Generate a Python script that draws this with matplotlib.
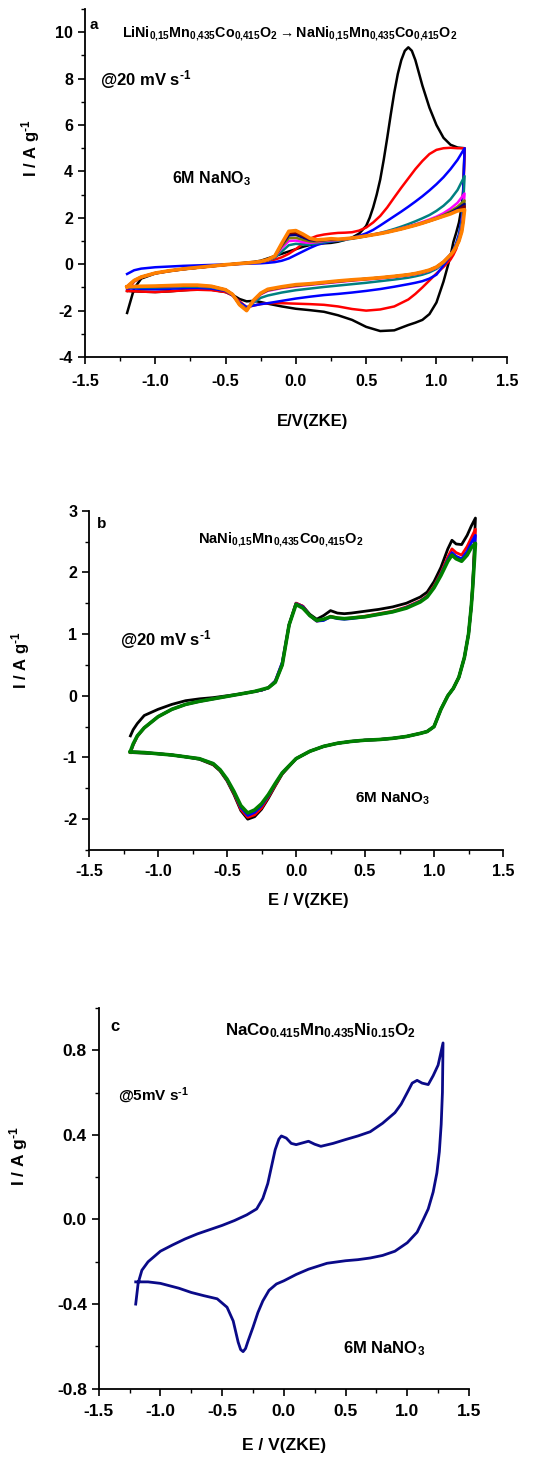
import matplotlib.pyplot as plt
from matplotlib.ticker import MultipleLocator

plt.rcParams['font.family'] = ['Liberation Sans', 'DejaVu Sans']
plt.rcParams['font.weight'] = 'bold'
plt.rcParams['axes.unicode_minus'] = False
plt.rcParams['mathtext.fontset'] = 'custom'
plt.rcParams['mathtext.rm'] = 'Liberation Sans:bold'
plt.rcParams['mathtext.bf'] = 'Liberation Sans:bold'
plt.rcParams['mathtext.it'] = 'Liberation Sans:bold'
plt.rcParams['mathtext.default'] = 'bf'

# ---------------- panel a : 9 cycles, LiNMC -> NaNMC exchange ----------------
E_A_UP = [-1.2, -1.15, -1.1, -1.0, -0.9, -0.8, -0.7, -0.6, -0.5, -0.4, -0.3,
          -0.25, -0.2, -0.15, -0.1, -0.05, 0.0, 0.05, 0.1, 0.15, 0.2, 0.25, 0.3,
          0.35, 0.4, 0.45, 0.5, 0.55, 0.6, 0.65, 0.7, 0.75, 0.8, 0.85, 0.9, 0.95,
          1.0, 1.05, 1.1, 1.15, 1.2]
E_A_DOWN = [1.2, 1.19, 1.18, 1.16, 1.14, 1.12, 1.1, 1.05, 1.0, 0.95, 0.9, 0.85,
            0.8, 0.7, 0.6, 0.5, 0.4, 0.3, 0.2, 0.1, 0.0, -0.1, -0.2, -0.25, -0.3,
            -0.35, -0.4, -0.45, -0.5, -0.6, -0.7, -0.8, -0.9, -1.0, -1.1, -1.2]
# first cycle has the big oxidation peak, read on a finer grid
E_A_UP_FIRST = [-1.2, -1.15, -1.1, -1.0, -0.9, -0.8, -0.7, -0.6, -0.5, -0.4, -0.3,
                -0.25, -0.2, -0.15, -0.1, -0.05, 0.0, 0.05, 0.1, 0.15, 0.2, 0.25, 0.3,
                0.35, 0.4, 0.45, 0.5, 0.525, 0.55, 0.575, 0.6, 0.625, 0.65, 0.675, 0.7,
                0.725, 0.75, 0.775, 0.8, 0.825, 0.85, 0.875, 0.9, 0.95, 1.0, 1.05, 1.1,
                1.15, 1.2]

a_black_up = [-2.1, -1.05, -0.62, -0.4, -0.3, -0.22, -0.15, -0.08, -0.02, 0.04, 0.1,
              0.15, 0.25, 0.35, 0.45, 0.55, 0.65, 0.75, 0.83, 0.88, 0.9, 0.92, 0.97,
              1.05, 1.15, 1.32, 1.65, 2.0, 2.45, 3.0, 3.65, 4.5, 5.45, 6.45, 7.4,
              8.2, 8.8, 9.2, 9.35, 9.2, 8.8, 8.25, 7.7, 6.75, 6.0, 5.45, 5.15,
              5.03, 5.0]
a_black_down = [5.0, 3.2, 2.5, 1.8, 1.35, 0.95, 0.35, -0.75, -1.65, -2.15, -2.4, -2.52,
                -2.62, -2.85, -2.88, -2.7, -2.4, -2.2, -2.05, -1.98, -1.92, -1.82, -1.7,
                -1.63, -1.58, -1.6, -1.5, -1.32, -1.2, -1.1, -1.08, -1.12, -1.17, -1.2,
                -1.18, -1.15]

a_red_up = [-1.15, -0.75, -0.57, -0.39, -0.29, -0.21, -0.15, -0.09, -0.03, 0.02, 0.07,
            0.1, 0.14, 0.2, 0.3, 0.45, 0.65, 0.88, 1.1, 1.22, 1.28, 1.32, 1.35,
            1.36, 1.38, 1.45, 1.58, 1.8, 2.08, 2.45, 2.88, 3.3, 3.7, 4.1, 4.45, 4.75,
            4.93, 5.0, 5.02, 5.0, 5.0]
a_red_down = [5.0, 2.5, 1.7, 1.05, 0.65, 0.4, 0.2, -0.12, -0.4, -0.7, -1.0, -1.28,
              -1.52, -1.82, -1.95, -2.0, -1.93, -1.82, -1.75, -1.72, -1.7, -1.68, -1.68,
              -1.72, -1.78, -1.85, -1.6, -1.35, -1.2, -1.12, -1.1, -1.13, -1.17, -1.2,
              -1.18, -1.15]

a_blue_up = [-0.42, -0.26, -0.19, -0.13, -0.1, -0.07, -0.05, -0.03, -0.01, 0.01, 0.03,
             0.04, 0.06, 0.09, 0.15, 0.25, 0.4, 0.55, 0.7, 0.83, 0.92, 0.98, 1.03,
             1.08, 1.13, 1.22, 1.33, 1.48, 1.67, 1.87, 2.07, 2.27, 2.48, 2.7, 2.93, 3.18,
             3.45, 3.75, 4.1, 4.5, 5.0]
a_blue_down = [5.0, 3.0, 2.0, 1.3, 0.9, 0.6, 0.38, -0.05, -0.45, -0.62, -0.73, -0.8,
               -0.86, -0.97, -1.07, -1.15, -1.22, -1.28, -1.33, -1.4, -1.48, -1.58, -1.68,
               -1.72, -1.78, -1.85, -1.65, -1.35, -1.15, -1.05, -1.02, -1.03, -1.06, -1.08,
               -1.06, -1.04]

a_teal_up = [-1.0, -0.72, -0.56, -0.39, -0.29, -0.21, -0.15, -0.09, -0.03, 0.02, 0.07,
             0.1, 0.15, 0.28, 0.55, 0.82, 0.88, 0.85, 0.85, 0.9, 0.95, 0.99, 1.01,
             1.05, 1.1, 1.15, 1.21, 1.28, 1.35, 1.43, 1.52, 1.62, 1.73, 1.85, 1.98, 2.12,
             2.3, 2.52, 2.8, 3.2, 3.8]
a_teal_down = [3.8, 2.5, 1.8, 1.2, 0.85, 0.6, 0.42, 0.05, -0.2, -0.35, -0.45, -0.52,
               -0.58, -0.66, -0.73, -0.8, -0.86, -0.92, -0.98, -1.05, -1.12, -1.22, -1.35,
               -1.45, -1.65, -1.92, -1.7, -1.32, -1.12, -1.0, -0.97, -0.97, -0.99, -1.0,
               -1.0, -0.99]

a_magenta_up = [-1.0, -0.72, -0.56, -0.39, -0.29, -0.21, -0.15, -0.09, -0.03, 0.02, 0.07,
                0.1, 0.16, 0.32, 0.7, 1.0, 1.02, 0.95, 0.92, 0.95, 1.0, 1.03, 1.04,
                1.07, 1.12, 1.17, 1.22, 1.28, 1.34, 1.4, 1.47, 1.55, 1.63, 1.72, 1.82, 1.93,
                2.05, 2.2, 2.4, 2.65, 3.05]
a_magenta_down = [3.05, 2.2, 1.6, 1.1, 0.8, 0.58, 0.42, 0.08, -0.15, -0.28, -0.37, -0.43,
                  -0.48, -0.55, -0.61, -0.66, -0.71, -0.77, -0.83, -0.89, -0.95, -1.03, -1.15,
                  -1.3, -1.6, -1.94, -1.72, -1.3, -1.1, -0.97, -0.93, -0.93, -0.95, -0.96,
                  -0.96, -0.97]

a_olive_up = [-0.98, -0.71, -0.56, -0.39, -0.29, -0.21, -0.15, -0.09, -0.03, 0.02, 0.07,
              0.1, 0.17, 0.33, 0.78, 1.12, 1.14, 1.05, 0.98, 0.98, 1.02, 1.05, 1.05,
              1.08, 1.12, 1.17, 1.22, 1.27, 1.33, 1.39, 1.46, 1.53, 1.61, 1.7, 1.79, 1.89,
              2.0, 2.12, 2.28, 2.48, 2.75]
a_olive_down = [2.75, 2.0, 1.5, 1.05, 0.78, 0.56, 0.41, 0.09, -0.13, -0.26, -0.35, -0.41,
                -0.46, -0.53, -0.59, -0.64, -0.69, -0.75, -0.81, -0.87, -0.93, -1.01, -1.13,
                -1.28, -1.58, -1.96, -1.73, -1.3, -1.1, -0.96, -0.92, -0.92, -0.94, -0.95,
                -0.95, -0.97]

a_navy_up = [-0.97, -0.71, -0.55, -0.38, -0.28, -0.2, -0.14, -0.08, -0.02, 0.03, 0.08,
             0.11, 0.18, 0.34, 0.83, 1.24, 1.27, 1.15, 1.04, 1.01, 1.04, 1.07, 1.06,
             1.09, 1.12, 1.17, 1.22, 1.27, 1.32, 1.38, 1.45, 1.52, 1.6, 1.68, 1.77, 1.87,
             1.98, 2.09, 2.23, 2.4, 2.6]
a_navy_down = [2.6, 1.9, 1.45, 1.02, 0.77, 0.56, 0.41, 0.1, -0.12, -0.25, -0.34, -0.4,
               -0.45, -0.52, -0.58, -0.63, -0.68, -0.74, -0.8, -0.86, -0.91, -0.99, -1.11,
               -1.27, -1.57, -1.97, -1.74, -1.3, -1.1, -0.96, -0.92, -0.92, -0.94, -0.95,
               -0.95, -0.97]

a_wine_up = [-0.97, -0.7, -0.55, -0.38, -0.28, -0.2, -0.14, -0.08, -0.02, 0.03, 0.08,
             0.11, 0.19, 0.35, 0.87, 1.34, 1.36, 1.22, 1.08, 1.03, 1.05, 1.08, 1.07,
             1.09, 1.12, 1.17, 1.22, 1.27, 1.32, 1.38, 1.45, 1.52, 1.6, 1.68, 1.77, 1.86,
             1.96, 2.07, 2.19, 2.32, 2.5]
a_wine_down = [2.5, 1.85, 1.42, 1.0, 0.76, 0.55, 0.4, 0.1, -0.12, -0.25, -0.34, -0.4,
               -0.45, -0.52, -0.58, -0.63, -0.68, -0.73, -0.79, -0.85, -0.9, -0.98, -1.1,
               -1.26, -1.56, -1.99, -1.75, -1.3, -1.1, -0.95, -0.91, -0.91, -0.93, -0.95,
               -0.95, -0.97]

a_orange_up = [-0.97, -0.7, -0.55, -0.38, -0.28, -0.2, -0.14, -0.08, -0.02, 0.03, 0.08,
               0.12, 0.2, 0.35, 0.9, 1.42, 1.45, 1.3, 1.12, 1.05, 1.07, 1.1, 1.08,
               1.1, 1.13, 1.17, 1.22, 1.27, 1.32, 1.38, 1.45, 1.52, 1.6, 1.68, 1.77, 1.87,
               1.97, 2.07, 2.17, 2.3, 2.35]
a_orange_down = [2.35, 1.8, 1.4, 1.0, 0.75, 0.55, 0.4, 0.1, -0.12, -0.25, -0.33, -0.4,
                 -0.45, -0.52, -0.58, -0.63, -0.67, -0.72, -0.78, -0.84, -0.88, -0.97, -1.08,
                 -1.25, -1.55, -2.0, -1.75, -1.3, -1.1, -0.95, -0.9, -0.9, -0.92, -0.94,
                 -0.95, -0.97]

# ---------------- panel b : 4 cycles of NaNMC ----------------
E_B_UP = [-1.2, -1.18, -1.15, -1.1, -1.0, -0.9, -0.8, -0.7, -0.6, -0.5, -0.4, -0.3,
          -0.25, -0.2, -0.15, -0.1, -0.05, 0.0, 0.05, 0.1, 0.15, 0.2, 0.25, 0.3, 0.35,
          0.4, 0.5, 0.6, 0.7, 0.8, 0.9, 0.95, 1.0, 1.05, 1.1, 1.13, 1.16, 1.2, 1.24,
          1.27, 1.3]
E_B_DOWN = [1.3, 1.29, 1.28, 1.27, 1.25, 1.22, 1.18, 1.14, 1.1, 1.05, 1.0, 0.95, 0.9,
            0.8, 0.7, 0.6, 0.5, 0.4, 0.3, 0.2, 0.1, 0.0, -0.1, -0.15, -0.2, -0.25, -0.3,
            -0.35, -0.4, -0.45, -0.5, -0.55, -0.6, -0.7, -0.8, -0.9, -1.0, -1.1, -1.2]

b_black_up = [-0.65, -0.55, -0.45, -0.32, -0.22, -0.14, -0.08, -0.05, -0.03, 0.0, 0.03,
              0.07, 0.09, 0.13, 0.22, 0.5, 1.15, 1.5, 1.45, 1.32, 1.24, 1.3, 1.38, 1.34,
              1.33, 1.34, 1.37, 1.4, 1.44, 1.5, 1.6, 1.68, 1.85, 2.08, 2.38, 2.52, 2.46,
              2.45, 2.6, 2.75, 2.88]
b_black_down = [2.88, 2.3, 1.8, 1.45, 1.0, 0.62, 0.3, 0.12, 0.0, -0.22, -0.5, -0.58,
                -0.61, -0.66, -0.69, -0.71, -0.72, -0.74, -0.77, -0.82, -0.9, -1.02, -1.27,
                -1.46, -1.66, -1.84, -1.96, -2.0, -1.86, -1.6, -1.38, -1.22, -1.12, -1.03,
                -0.99, -0.96, -0.94, -0.93, -0.92]

b_red_up = [-0.92, -0.8, -0.66, -0.52, -0.34, -0.22, -0.14, -0.09, -0.05, -0.01, 0.03,
            0.07, 0.09, 0.13, 0.24, 0.53, 1.15, 1.5, 1.45, 1.3, 1.21, 1.23, 1.29, 1.26,
            1.25, 1.26, 1.29, 1.33, 1.37, 1.44, 1.54, 1.62, 1.78, 1.99, 2.25, 2.38, 2.32,
            2.28, 2.42, 2.56, 2.7]
b_red_down = [2.7, 2.2, 1.75, 1.45, 1.0, 0.62, 0.3, 0.12, 0.0, -0.22, -0.5, -0.58,
              -0.61, -0.66, -0.69, -0.71, -0.72, -0.74, -0.77, -0.82, -0.9, -1.02, -1.26,
              -1.45, -1.64, -1.82, -1.93, -1.97, -1.84, -1.58, -1.37, -1.21, -1.11, -1.02,
              -0.99, -0.96, -0.94, -0.92, -0.91]

b_blue_up = [-0.91, -0.79, -0.65, -0.52, -0.34, -0.22, -0.14, -0.09, -0.05, -0.01, 0.03,
             0.07, 0.09, 0.13, 0.24, 0.54, 1.15, 1.49, 1.44, 1.3, 1.21, 1.22, 1.28, 1.25,
             1.24, 1.25, 1.28, 1.32, 1.36, 1.43, 1.53, 1.61, 1.76, 1.97, 2.21, 2.32, 2.26,
             2.22, 2.34, 2.48, 2.6]
b_blue_down = [2.6, 2.15, 1.75, 1.45, 1.0, 0.62, 0.3, 0.12, 0.0, -0.22, -0.5, -0.58,
               -0.61, -0.66, -0.69, -0.71, -0.72, -0.74, -0.77, -0.82, -0.9, -1.02, -1.25,
               -1.43, -1.62, -1.78, -1.89, -1.94, -1.81, -1.56, -1.36, -1.2, -1.1, -1.02,
               -0.99, -0.96, -0.94, -0.92, -0.91]

b_green_up = [-0.9, -0.78, -0.65, -0.52, -0.34, -0.22, -0.14, -0.09, -0.05, -0.01, 0.03,
              0.07, 0.1, 0.13, 0.22, 0.5, 1.15, 1.48, 1.42, 1.3, 1.22, 1.24, 1.28, 1.26,
              1.25, 1.26, 1.28, 1.32, 1.36, 1.42, 1.52, 1.6, 1.75, 1.95, 2.18, 2.28, 2.22,
              2.18, 2.28, 2.4, 2.47]
b_green_down = [2.47, 2.1, 1.75, 1.45, 1.0, 0.62, 0.3, 0.12, 0.0, -0.22, -0.5, -0.58,
                -0.61, -0.66, -0.69, -0.71, -0.72, -0.74, -0.77, -0.82, -0.9, -1.02, -1.25,
                -1.42, -1.6, -1.75, -1.85, -1.9, -1.78, -1.55, -1.35, -1.2, -1.1, -1.02,
                -0.99, -0.96, -0.94, -0.92, -0.91]

# ---------------- panel c : single cycle at 5 mV/s ----------------
E_C = [-1.2, -1.18, -1.15, -1.1, -1.0, -0.9, -0.8, -0.7, -0.6, -0.5, -0.4, -0.3, -0.22,
       -0.17, -0.13, -0.1, -0.07, -0.04, -0.02, 0.02, 0.06, 0.1, 0.15, 0.2, 0.25, 0.3,
       0.4, 0.5, 0.6, 0.7, 0.8, 0.9, 0.95, 1.0, 1.04, 1.08, 1.12, 1.17, 1.21, 1.25, 1.29,
       1.285, 1.275, 1.26, 1.24, 1.21, 1.17, 1.13, 1.08, 1.0, 0.9, 0.8, 0.7, 0.6, 0.5,
       0.35, 0.2, 0.1, 0.0, -0.06, -0.12, -0.17, -0.21, -0.25, -0.29, -0.31, -0.33, -0.35,
       -0.37, -0.39, -0.41, -0.46, -0.54, -0.65, -0.75, -0.85, -1.0, -1.1, -1.2]
I_C = [-0.4, -0.3, -0.24, -0.2, -0.15, -0.12, -0.092, -0.068, -0.048, -0.028, -0.005,
       0.022, 0.05, 0.1, 0.17, 0.25, 0.33, 0.38, 0.395, 0.385, 0.36, 0.354, 0.362, 0.37,
       0.356, 0.346, 0.36, 0.378, 0.395, 0.415, 0.455, 0.505, 0.545, 0.6, 0.645, 0.658,
       0.645, 0.638, 0.68, 0.73, 0.835,
       0.6, 0.45, 0.32, 0.22, 0.13, 0.05, 0.0, -0.06, -0.11, -0.15, -0.17, -0.182, -0.19,
       -0.195, -0.207, -0.235, -0.26, -0.29, -0.305, -0.335, -0.385, -0.44, -0.51, -0.575,
       -0.61, -0.625, -0.615, -0.58, -0.53, -0.48, -0.415, -0.375, -0.36, -0.345, -0.325,
       -0.302, -0.295, -0.295]

XTICKS = [-1.5, -1.0, -0.5, 0.0, 0.5, 1.0, 1.5]
XTICK_LABELS = ['-1.5', '-1.0', '-0.5', '0.0', '0.5', '1.0', '1.5']
YTICKS_A = [-4, -2, 0, 2, 4, 6, 8, 10]
YTICKS_B = [-2, -1, 0, 1, 2, 3]
YTICKS_C = [-0.8, -0.4, 0.0, 0.4, 0.8]
YTICK_LABELS_C = ['-0.8', '-0.4', '0.0', '0.4', '0.8']

W, H = 534, 1459
fig = plt.figure(figsize=(W / 100, H / 100), dpi=100)


def px(x, y):
    return x / W, 1 - y / H


def style(ax, ylim, yticks, yminor, ylabels, fs, xpad, ypad):
    ax.set_xlim(-1.5, 1.5)
    ax.set_ylim(*ylim)
    ax.spines['top'].set_visible(False)
    ax.spines['right'].set_visible(False)
    ax.spines['left'].set_linewidth(1.3)
    ax.spines['bottom'].set_linewidth(1.3)
    ax.set_xticks(XTICKS, XTICK_LABELS)
    ax.set_yticks(yticks, ylabels)
    ax.xaxis.set_minor_locator(MultipleLocator(0.25))
    ax.yaxis.set_minor_locator(MultipleLocator(yminor))
    ax.tick_params(which='major', direction='out', length=5, width=1.2, labelsize=fs)
    ax.tick_params(which='minor', direction='out', length=3, width=1.0)
    ax.tick_params(axis='x', which='major', pad=xpad)
    ax.tick_params(axis='y', which='major', pad=ypad)


INV = r'$^{\text{-1}}$'

# ---- panel a
ax1 = fig.add_axes([0.159, 0.7553, 0.790, 0.2385])
cycles_a = [(E_A_UP_FIRST, a_black_up, a_black_down, '#000000', 1.8),
            (E_A_UP, a_red_up, a_red_down, '#FF0000', 1.8),
            (E_A_UP, a_blue_up, a_blue_down, '#0000FF', 1.8),
            (E_A_UP, a_teal_up, a_teal_down, '#008080', 1.8),
            (E_A_UP, a_magenta_up, a_magenta_down, '#FF00FF', 1.8),
            (E_A_UP, a_olive_up, a_olive_down, '#808000', 1.8),
            (E_A_UP, a_navy_up, a_navy_down, '#000080', 1.8),
            (E_A_UP, a_wine_up, a_wine_down, '#800000', 1.8),
            (E_A_UP, a_orange_up, a_orange_down, '#FF8000', 2.6)]
for e_up, up, down, col, lw in cycles_a:
    ax1.plot(e_up + E_A_DOWN, up + down, color=col, lw=lw)
style(ax1, (-4, 11), YTICKS_A, 1, [str(v) for v in YTICKS_A], 11.5, 7, 3.5)
ax1.set_xlabel('E/V(ZKE)', fontsize=12, fontweight='bold')
ax1.xaxis.set_label_coords(0.54, -0.165)
ax1.set_ylabel('I / A g' + INV, fontsize=12, fontweight='bold')
ax1.yaxis.set_label_coords(-0.102, 0.6)

fig.text(*px(89, 29), 'a', fontsize=11)
fig.text(*px(122, 37), r'LiNi$_{0{,}15}$Mn$_{0{,}435}$Co$_{0{,}415}$O$_2$$\rightarrow$'
         r'NaNi$_{0{,}15}$Mn$_{0{,}435}$Co$_{0{,}415}$O$_2$', fontsize=10.3)
fig.text(*px(100, 85), '@20 mV s' + INV, fontsize=12)
fig.text(*px(172, 183), '6M NaNO$_3$', fontsize=11.5)

# ---- panel b
ax2 = fig.add_axes([0.1667, 0.4174, 0.7753, 0.2326])
cycles_b = [(b_black_up, b_black_down, '#000000', 2.0),
            (b_red_up, b_red_down, '#FF0000', 2.0),
            (b_blue_up, b_blue_down, '#0000FF', 2.0),
            (b_green_up, b_green_down, '#008000', 2.6)]
for up, down, col, lw in cycles_b:
    ax2.plot(E_B_UP + E_B_DOWN, up + down, color=col, lw=lw)
style(ax2, (-2.5, 3), YTICKS_B, 0.5, [str(v) for v in YTICKS_B], 11.5, 5, 3.5)
ax2.set_xlabel('E / V(ZKE)', fontsize=12, fontweight='bold')
ax2.xaxis.set_label_coords(0.53, -0.127)
ax2.set_ylabel('I / A g' + INV, fontsize=12, fontweight='bold')
ax2.yaxis.set_label_coords(-0.138, 0.56)

fig.text(*px(97, 528), 'b', fontsize=11)
fig.text(*px(198, 543), r'NaNi$_{0{,}15}$Mn$_{0{,}435}$Co$_{0{,}415}$O$_2$', fontsize=10.5)
fig.text(*px(120, 645), '@20 mV s' + INV, fontsize=12)
fig.text(*px(355, 803), '6M NaNO$_3$', fontsize=11)

# ---- panel c
ax3 = fig.add_axes([0.1848, 0.0482, 0.6934, 0.2609])
ax3.plot(E_C, I_C, color='#0A0A88', lw=2.0)
style(ax3, (-0.8, 1.0), YTICKS_C, 0.2, YTICK_LABELS_C, 12.5, 6, 3.5)
ax3.set_xlabel('E / V(ZKE)', fontsize=12.5, fontweight='bold')
ax3.xaxis.set_label_coords(0.5, -0.13)
ax3.set_ylabel('I / A g' + INV, fontsize=12.5, fontweight='bold')
ax3.yaxis.set_label_coords(-0.186, 0.61)

fig.text(*px(110, 1031), 'c', fontsize=12)
fig.text(*px(225, 1035), r'NaCo$_{0.415}$Mn$_{0.435}$Ni$_{0.15}$O$_2$', fontsize=12.2)
fig.text(*px(118, 1101), '@5mV s' + INV, fontsize=11)
fig.text(*px(343, 1353), '6M NaNO$_3$', fontsize=12)

fig.savefig('out.png', dpi=100)
